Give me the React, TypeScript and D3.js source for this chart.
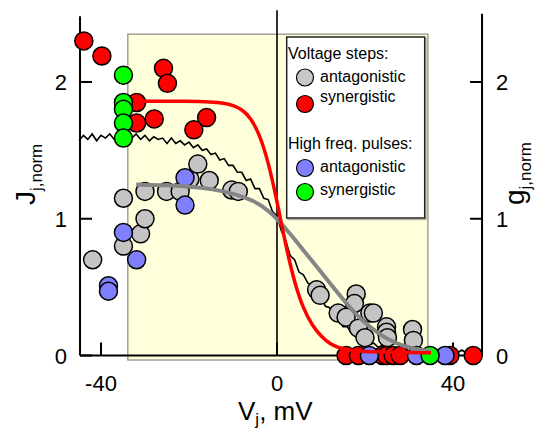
import React from 'react'
import * as d3 from 'd3'

const W = 547
const H = 432

const xTicks = [-40, 0, 40]
const yTicks = [0, 1, 2]

// voltage steps, antagonistic (gray)
const stepsAntag: [number, number][] = [
  [-41.9, 0.70], [-34.9, 0.80], [-31.0, 0.89], [-30.0, 1.00], [-34.9, 1.15],
  [-30.0, 1.20], [-25.1, 1.20], [-22.0, 1.20], [-19.8, 1.29], [-18.0, 1.40],
  [-15.4, 1.28], [-10.3, 1.21], [-8.8, 1.20],
  [9.0, 0.48], [9.8, 0.44], [18.0, 0.45], [17.6, 0.38], [21.1, 0.31], [21.9, 0.31],
  [13.9, 0.31], [15.7, 0.28], [18.5, 0.20], [20.0, 0.13], [24.9, 0.21], [24.9, 0.17],
  [25.1, 0.13], [30.8, 0.19], [31.0, 0.11],
]

// voltage steps, synergistic (red)
const stepsSyn: [number, number][] = [
  [-43.9, 2.30], [-39.8, 2.19], [-25.8, 2.10], [-24.9, 1.99], [-31.9, 1.85],
  [-31.9, 1.70], [-27.9, 1.73], [-16.0, 1.74], [-18.9, 1.65],
  [15.7, 0], [18.5, 0], [24.0, 0], [24.9, 0], [26.4, 0], [28.0, 0], [39.3, 0], [44.6, 0],
]

// high freq. pulses, antagonistic (blue)
const pulsesAntag: [number, number][] = [
  [-20.9, 1.30], [-20.9, 1.10], [-34.9, 0.90], [-31.9, 0.70], [-38.3, 0.51],
  [-38.3, 0.47], [21.0, 0], [31.7, 0], [38.2, 0],
]

// high freq. pulses, synergistic (green)
const pulsesSyn: [number, number][] = [
  [-34.9, 2.05], [-34.9, 1.85], [-34.9, 1.80], [-34.9, 1.70], [-34.9, 1.59], [34.8, 0],
]

// fitted curves
const fitSyn: [number, number][] = [
  [-32, 1.86], [-20, 1.86], [-15, 1.855], [-12, 1.845], [-10, 1.83], [-8, 1.80],
  [-6, 1.74], [-4, 1.62], [-2, 1.42], [0, 1.13], [2, 0.80], [4, 0.53], [6, 0.34],
  [8, 0.22], [10, 0.14], [12, 0.085], [14, 0.055], [17, 0.035], [22, 0.025], [35, 0.02],
]
const fitAntag: [number, number][] = [
  [-32, 1.25], [-25, 1.245], [-20, 1.235], [-15, 1.22], [-10, 1.185], [-5, 1.13],
  [-2, 1.06], [0, 1.00], [3, 0.89], [6, 0.77], [9, 0.65], [12, 0.53], [15, 0.41],
  [18, 0.30], [21, 0.21], [24, 0.14], [27, 0.09], [30, 0.055], [35, 0.03],
]

// continuous g_j trace, 1 mV apart starting at -45 mV
const traceStart = -45
const traceJ = [
  1.57, 1.61, 1.58, 1.62, 1.57, 1.61, 1.59, 1.62, 1.58, 1.61,
  1.58, 1.63, 1.59, 1.62, 1.58, 1.61, 1.57, 1.60, 1.58, 1.59,
  1.55, 1.59, 1.55, 1.57, 1.54, 1.56, 1.52, 1.54, 1.50, 1.51,
  1.47, 1.48, 1.43, 1.44, 1.39, 1.39, 1.34, 1.34, 1.28, 1.29,
  1.22, 1.22, 1.15, 1.14, 1.05, 1.02, 0.91, 0.84, 0.73, 0.70,
  0.61, 0.59, 0.53, 0.51, 0.44, 0.43, 0.36, 0.35, 0.28, 0.28,
  0.21, 0.21, 0.16, 0.16, 0.11, 0.12, 0.08, 0.09, 0.06, 0.075,
  0.05, 0.065, 0.045, 0.06, 0.04, 0.06, 0.035, 0.055, 0.03, 0.05,
  0.03, 0.05, 0.025, 0.045, 0.025, 0.045, 0.02, 0.04, 0.02, 0.04,
  0.02, 0.035,
]

const FONT = 'Liberation Sans, Arial, sans-serif'
const R = 9

export default function App() {
  const x = d3.scaleLinear().domain([-40, 40]).range([101, 453])
  const y = d3.scaleLinear().domain([0, 2]).range([355.5, 82])

  const smooth = d3.line<[number, number]>()
    .x(d => x(d[0]))
    .y(d => y(d[1]))
    .curve(d3.curveBasis)
  const raw = d3.line<number>()
    .x((d, i) => x(traceStart + i))
    .y(d => y(d))

  const left = x(-44.77)
  const right = x(46.6)
  const base = y(0)

  const dots = (data: [number, number][], fill: string) =>
    data.map((d, i) => (
      <circle key={fill + i} cx={x(d[0])} cy={y(d[1])} r={R} fill={fill} stroke="#000" strokeWidth={1.5} />
    ))

  return (
    <svg width={W} height={H} style={{position: 'absolute', left: 0, top: 0, background: '#fff'}} fontFamily={FONT}>
      {/* shaded region */}
      <rect x={x(-33.9)} y={y(2.35)} width={x(34.3) - x(-33.9)} height={y(-0.033) - y(2.35)}
        fill="#ffffdc" stroke="#8a8a80" strokeWidth={1.2} />

      {/* zero line */}
      <line x1={x(0)} x2={x(0)} y1={y(2.525)} y2={base} stroke="#000" strokeWidth={1.6} />

      {/* legend */}
      <rect x={288} y={38.5} width={138} height={181} fill="none" stroke="#b8b8a8" strokeWidth={1.5} />
      <rect x={286.7} y={37} width={138} height={181} fill="#fff" stroke="#222" strokeWidth={1.5} />
      <text x={288} y={59} fontSize={16}>Voltage steps:</text>
      <circle cx={305} cy={77.5} r={8.5} fill="#c8c8c8" stroke="#000" strokeWidth={1.2} />
      <text x={320} y={82} fontSize={16}>antagonistic</text>
      <circle cx={305} cy={104} r={8.5} fill="#ff0000" stroke="#000" strokeWidth={1.2} />
      <text x={320} y={102} fontSize={16}>synergistic</text>
      <text x={288} y={149} fontSize={16}>High freq. pulses:</text>
      <circle cx={305} cy={168} r={8.5} fill="#8080ff" stroke="#000" strokeWidth={1.2} />
      <text x={320} y={172} fontSize={16}>antagonistic</text>
      <circle cx={305} cy={192} r={8.5} fill="#00ff00" stroke="#000" strokeWidth={1.2} />
      <text x={320} y={195} fontSize={16}>synergistic</text>

      {/* axes */}
      <line x1={left} x2={left} y1={y(2.48)} y2={base} stroke="#000" strokeWidth={2} />
      <line x1={right} x2={right} y1={y(2.5)} y2={base} stroke="#000" strokeWidth={2} />
      <line x1={left} x2={right} y1={base} y2={base} stroke="#000" strokeWidth={2} />
      {yTicks.map(t => (
        <g key={'y' + t}>
          <line x1={left} x2={left + 12} y1={y(t)} y2={y(t)} stroke="#000" strokeWidth={2} />
          <line x1={right} x2={right - 12} y1={y(t)} y2={y(t)} stroke="#000" strokeWidth={2} />
          <text x={left - 13} y={y(t) + 8} fontSize={22} textAnchor="end">{t}</text>
          <text x={right + 14} y={y(t) + 8} fontSize={22}>{t}</text>
        </g>
      ))}
      {xTicks.map(t => (
        <g key={'x' + t}>
          <line x1={x(t)} x2={x(t)} y1={base} y2={base - 13} stroke="#000" strokeWidth={2} />
          <text x={x(t)} y={391} fontSize={22} textAnchor="middle">{t}</text>
        </g>
      ))}

      {/* axis titles */}
      <text x={238} y={420} fontSize={26}>
        V<tspan fontSize={17} dy={5}>j</tspan><tspan fontSize={26} dy={-5}>, mV</tspan>
      </text>
      <text transform="translate(35,205) rotate(-90)" fontSize={28}>
        J<tspan fontSize={17} dy={7}>j,norm</tspan>
      </text>
      <text transform="translate(524,205) rotate(-90)" fontSize={28}>
        g<tspan fontSize={17} dy={7}>j,norm</tspan>
      </text>

      {/* data */}
      <path d={raw(traceJ) ?? ''} fill="none" stroke="#000" strokeWidth={1.6} />
      {dots(stepsAntag, '#c4c4c4')}
      {dots(stepsSyn, '#ff0000')}
      {dots(pulsesAntag, '#8080ff')}
      {dots(pulsesSyn, '#00ff00')}
      <path d={smooth(fitAntag) ?? ''} fill="none" stroke="#858585" strokeWidth={4} />
      <path d={smooth(fitSyn) ?? ''} fill="none" stroke="#ff0000" strokeWidth={3.5} />
    </svg>
  )
}
